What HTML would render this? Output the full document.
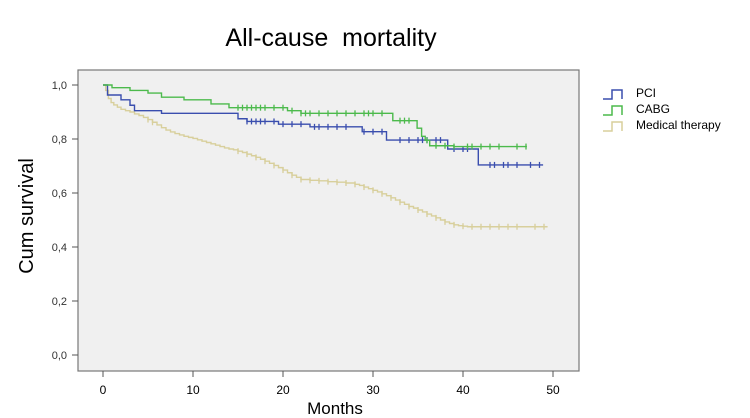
<!DOCTYPE html>
<html><head><meta charset="utf-8"><style>
html,body{margin:0;padding:0;background:#fff;width:750px;height:418px;overflow:hidden}
svg{display:block;font-family:"Liberation Sans",sans-serif}
</style></head><body>
<svg id="chart" width="750" height="418">
<text x="331" y="46" font-size="25" text-anchor="middle" fill="#000" style="white-space:pre">All-cause  mortality</text>
<rect x="78" y="70" width="501" height="301" fill="#f0f0f0" stroke="#777" stroke-width="1.2"/>
<g id="axes"></g>
<g id="series"></g>
<text x="335" y="414" font-size="17" text-anchor="middle">Months</text>
<text transform="translate(33,216) rotate(-90)" font-size="20" text-anchor="middle">Cum survival</text>
<g>
 <g><path d="M603,99 H612 V90 H622 V99" fill="none" stroke="#3a4eae" stroke-width="1.5"/><text x="636" y="97" font-size="12">PCI</text></g>
 <g><path d="M603,115 H612 V106 H622 V115" fill="none" stroke="#4cba4c" stroke-width="1.5"/><text x="636" y="113" font-size="12">CABG</text></g>
 <g><path d="M603,131 H612 V122 H622 V131" fill="none" stroke="#d8cf9c" stroke-width="1.5"/><text x="636" y="129" font-size="12">Medical therapy</text></g>
</g>
</svg>
<script>
const xTicks=[0,10,20,30,40,50];
const yTicks=[0,0.2,0.4,0.6,0.8,1.0];
const yTickLabels=["0,0","0,2","0,4","0,6","0,8","1,0"];
const pciTimes=[0,0.5,2,3,3.5,6.5,15,16,19.5,23,28.8,31.5,38.3,41.7,48.9];
const pciSurv=[1.0,0.963,0.945,0.925,0.905,0.895,0.875,0.865,0.855,0.845,0.827,0.796,0.763,0.704,0.704];
const pciCensor=[16,16.5,17,17.5,18,19,20,21,22,23.5,24,25,26,27,29,30,31,33,34,35,35.5,36,37,37.5,39,40,40.5,43,43.5,44.5,45,46,47.5,48.5];
const cabgTimes=[0,1,3,5,6.5,9,12,14,20.5,22,32.2,34.9,35.4,35.8,36.3,39,47.1];
const cabgSurv=[1.0,0.99,0.98,0.97,0.955,0.945,0.93,0.916,0.905,0.895,0.868,0.84,0.81,0.795,0.775,0.772,0.772];
const cabgCensor=[15,15.5,16,16.5,17,17.5,18,19,20,21,22,22.5,23,24,25,26,27,28,29,29.5,30,31,33,33.5,34,36,37,38,39,40.5,41,42,43,44,46,47];
const medTimes=[0,0.3,0.6,0.9,1.2,1.6,2,2.5,3,3.5,4,4.5,5,5.5,6,6.5,7,7.5,8,8.5,9,9.5,10,10.5,11,11.5,12,12.5,13,13.5,14,14.5,15,15.5,16,16.5,17,17.5,18,18.5,19,19.5,20,20.5,21,21.5,22,23,24,25,26,27,28,28.5,29,29.5,30,30.5,31,31.5,32,32.5,33,33.5,34,34.5,35,35.5,36,36.5,37,37.5,38,38.5,39,39.5,40,40.5,49.4];
const medSurv=[1.0,0.98,0.95,0.935,0.926,0.918,0.91,0.905,0.9,0.893,0.887,0.88,0.872,0.862,0.852,0.842,0.833,0.826,0.82,0.815,0.81,0.806,0.802,0.797,0.792,0.787,0.782,0.777,0.772,0.767,0.763,0.76,0.755,0.75,0.744,0.738,0.732,0.725,0.718,0.71,0.702,0.694,0.685,0.675,0.666,0.658,0.65,0.647,0.645,0.642,0.64,0.637,0.632,0.628,0.622,0.616,0.61,0.604,0.597,0.59,0.582,0.574,0.566,0.558,0.55,0.544,0.537,0.53,0.522,0.515,0.508,0.5,0.493,0.487,0.482,0.479,0.477,0.475,0.475];
const medCensor=[5,5.5,15,16,17,18,19,20,21,22,23,24,25,26,27,28,29,30,31,32,33,34,35,36,37,38,39,40,41,42,43,44,45,46,48,49];
const X=t=>103+t*9;
const Y=s=>355-s*270;
const NS="http://www.w3.org/2000/svg";
const axes=document.getElementById('axes');
xTicks.forEach(t=>{
 const l=document.createElementNS(NS,'line');
 l.setAttribute('x1',X(t));l.setAttribute('x2',X(t));l.setAttribute('y1',371);l.setAttribute('y2',377);l.setAttribute('stroke','#555');
 
 
 axes.appendChild(l);
 const tx=document.createElementNS(NS,'text');
 tx.setAttribute('x',X(t));tx.setAttribute('y',394);tx.setAttribute('font-size','12');tx.setAttribute('text-anchor','middle');
 tx.textContent=t;
 
 
 axes.appendChild(tx);
});
yTicks.forEach((v,i)=>{
 const l=document.createElementNS(NS,'line');
 l.setAttribute('x1',72);l.setAttribute('x2',78);l.setAttribute('y1',Y(v));l.setAttribute('y2',Y(v));l.setAttribute('stroke','#555');
 
 
 axes.appendChild(l);
 const tx=document.createElementNS(NS,'text');
 tx.setAttribute('x',67);tx.setAttribute('y',Y(v)+4);tx.setAttribute('font-size','11');tx.setAttribute('text-anchor','end');tx.setAttribute('fill','#333');
 tx.textContent=yTickLabels[i];
 
 
 axes.appendChild(tx);
});
const sg=document.getElementById('series');
function survAt(times,surv,t){let s=surv[0];for(let i=0;i<times.length;i++){if(times[i]<=t)s=surv[i];}return s;}
function draw(times,surv,censor,color,name){
 let d='M'+X(times[0])+','+Y(surv[0]);
 for(let i=1;i<times.length;i++){d+=' H'+X(times[i])+' V'+Y(surv[i]);}
 const p=document.createElementNS(NS,'path');
 p.setAttribute('d',d);p.setAttribute('fill','none');p.setAttribute('stroke',color);p.setAttribute('stroke-width','1.4');
 
 
 sg.appendChild(p);
 censor.forEach(t=>{
  const s=survAt(times,surv,t);
  const c=document.createElementNS(NS,'line');
  c.setAttribute('x1',X(t));c.setAttribute('x2',X(t));c.setAttribute('y1',Y(s)-3);c.setAttribute('y2',Y(s)+3);
  c.setAttribute('stroke',color);c.setAttribute('stroke-width','1.3');
  
  
  sg.appendChild(c);
 });
}
draw(medTimes,medSurv,medCensor,'#d8cf9c','medical');
draw(pciTimes,pciSurv,pciCensor,'#3a4eae','pci');
draw(cabgTimes,cabgSurv,cabgCensor,'#4cba4c','cabg');
</script>
</body></html>
